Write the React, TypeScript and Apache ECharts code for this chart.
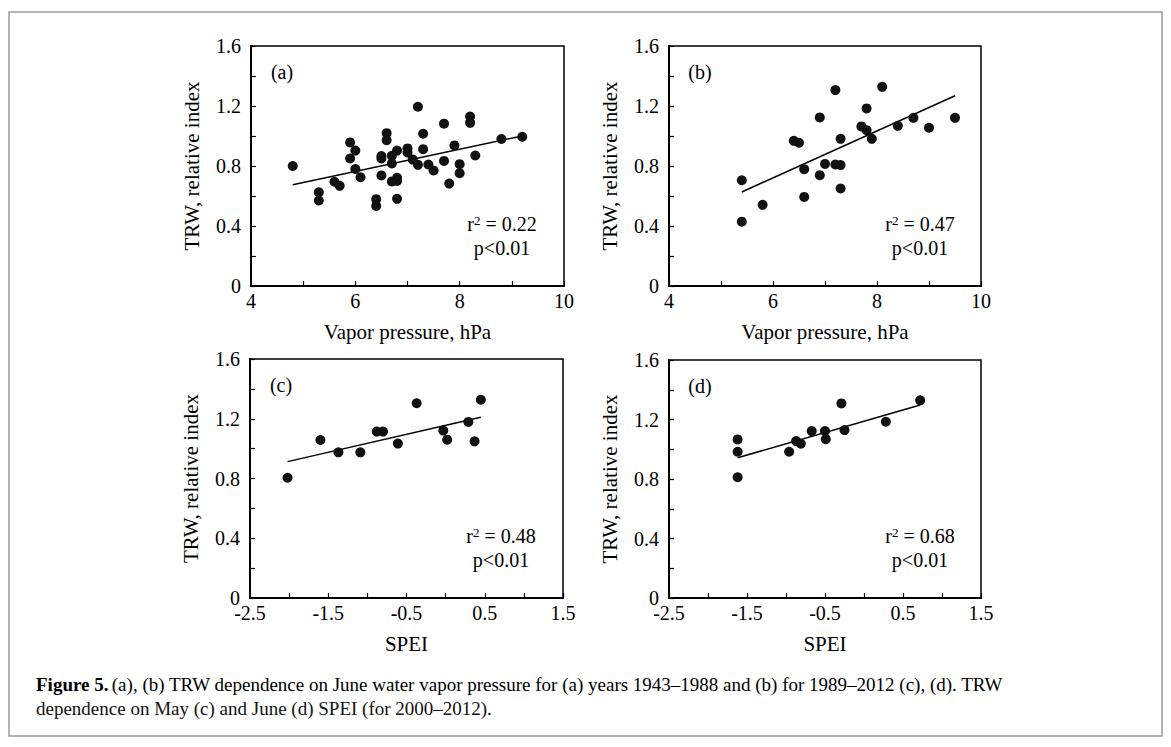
import React, { useEffect, useRef } from "react";
import * as echarts from "echarts";

const FONT = '"Liberation Serif", "Times New Roman", serif';

// Panel (a): June vapor pressure vs TRW, 1943–1988
const aVapor = [4.8, 5.3, 5.3, 5.6, 5.7, 5.9, 5.9, 6.0, 6.0, 6.1, 6.4, 6.4, 6.5, 6.5, 6.5, 6.6, 6.6, 6.7, 6.7, 6.7, 6.8, 6.8, 6.8, 6.8, 7.0, 7.0, 7.1, 7.2, 7.2, 7.3, 7.3, 7.4, 7.5, 7.7, 7.7, 7.8, 7.9, 8.0, 8.0, 8.2, 8.2, 8.3, 8.8, 9.2];
const aTRW = [0.8, 0.625, 0.57, 0.695, 0.668, 0.957, 0.85, 0.903, 0.78, 0.725, 0.579, 0.534, 0.866, 0.85, 0.737, 1.019, 0.972, 0.868, 0.817, 0.697, 0.903, 0.721, 0.581, 0.7, 0.917, 0.89, 0.843, 1.195, 0.808, 1.015, 0.912, 0.81, 0.77, 1.082, 0.834, 0.683, 0.937, 0.812, 0.752, 1.13, 1.088, 0.87, 0.98, 0.995];
const aFitX = [4.8, 9.2];
const aFitY = [0.675, 1.0];

// Panel (b): June vapor pressure vs TRW, 1989–2012
const bVapor = [5.4, 5.4, 5.8, 6.4, 6.5, 6.6, 6.6, 6.9, 6.9, 7.0, 7.2, 7.2, 7.3, 7.3, 7.3, 7.7, 7.8, 7.8, 7.9, 8.1, 8.4, 8.7, 9.0, 9.5];
const bTRW = [0.705, 0.429, 0.541, 0.968, 0.955, 0.779, 0.594, 1.124, 0.739, 0.814, 1.306, 0.81, 0.981, 0.806, 0.65, 1.064, 1.184, 1.039, 0.981, 1.328, 1.068, 1.121, 1.055, 1.121];
const bFitX = [5.4, 9.5];
const bFitY = [0.627, 1.268];

// Panel (c): May SPEI vs TRW, 2000–2012
const cSPEI = [-2.02, -1.6, -1.37, -1.09, -0.88, -0.8, -0.61, -0.37, -0.03, 0.02, 0.29, 0.37, 0.45];
const cTRW = [0.805, 1.058, 0.975, 0.975, 1.114, 1.114, 1.034, 1.304, 1.121, 1.06, 1.179, 1.049, 1.327];
const cFitX = [-2.02, 0.45];
const cFitY = [0.913, 1.21];

// Panel (d): June SPEI vs TRW, 2000–2012
const dSPEI = [-1.62, -1.62, -1.62, -0.96, -0.87, -0.81, -0.67, -0.5, -0.49, -0.29, -0.25, 0.28, 0.72];
const dTRW = [1.066, 0.983, 0.812, 0.983, 1.055, 1.037, 1.122, 1.122, 1.068, 1.308, 1.129, 1.185, 1.329];
const dFitX = [-1.62, 0.72];
const dFitY = [0.943, 1.297];

const panelLabels = ["(a)", "(b)", "(c)", "(d)"];
const r2Values = ["0.22", "0.47", "0.48", "0.68"];
const pText = "p<0.01";
const yTitle = "TRW, relative index";
const xTitles = ["Vapor pressure, hPa", "Vapor pressure, hPa", "SPEI", "SPEI"];
const captionLine1 = "(a), (b) TRW dependence on June water vapor pressure for (a) years 1943–1988 and (b) for 1989–2012 (c), (d). TRW";
const captionLine2 = "dependence on May (c) and June (d) SPEI (for 2000–2012).";

const grids = [
  { left: 251, top: 46, width: 313, height: 240 },
  { left: 669, top: 46, width: 312, height: 240 },
  { left: 250, top: 359, width: 313, height: 239 },
  { left: 669, top: 360, width: 312, height: 238 },
];

const zip = (xs: number[], ys: number[]) => xs.map((x, i) => [x, ys[i]]);

export default function App() {
  const ref = useRef<HTMLDivElement>(null);
  useEffect(() => {
    if (!ref.current) return;
    const chart = echarts.init(ref.current, undefined, { renderer: "svg" });

    const tickLabel = { color: "#000", fontFamily: FONT, fontSize: 20, lineHeight: 14 };
    const mkX = (i: number) => {
      const spei = i >= 2;
      return {
        type: "value",
        gridIndex: i,
        min: spei ? -2.5 : 4,
        max: spei ? 1.5 : 10,
        interval: spei ? 0.5 : 1,
        axisLine: { show: true, onZero: false, lineStyle: { color: "#000", width: 2 } },
        axisTick: { show: true, inside: true, length: 5, lineStyle: { color: "#000", width: 1.2 } },
        splitLine: { show: false },
        axisLabel: {
          ...tickLabel,
          margin: 8,
          showMinLabel: true,
          showMaxLabel: true,
          formatter: (v: number) => {
            if (spei) {
              const k = Math.round((v + 2.5) * 2);
              return k % 2 === 0 ? v.toFixed(1) : "";
            }
            const r = Math.round(v);
            return r % 2 === 0 ? String(r) : "";
          },
        },
      };
    };
    const mkY = (i: number) => ({
      type: "value",
      gridIndex: i,
      min: 0,
      max: 1.6,
      interval: 0.2,
      axisLine: { show: true, onZero: false, lineStyle: { color: "#000", width: 2 } },
      axisTick: { show: true, inside: true, length: 5, lineStyle: { color: "#000", width: 1.2 } },
      splitLine: { show: false },
      axisLabel: {
        ...tickLabel,
        margin: 10,
        formatter: (v: number) => {
          const k = Math.round(v * 10);
          if (k % 4 !== 0) return "";
          return k === 0 ? "0" : (k / 10).toFixed(1);
        },
      },
    });

    const pts = [zip(aVapor, aTRW), zip(bVapor, bTRW), zip(cSPEI, cTRW), zip(dSPEI, dTRW)];
    const fits = [zip(aFitX, aFitY), zip(bFitX, bFitY), zip(cFitX, cFitY), zip(dFitX, dFitY)];

    const series: any[] = [];
    for (let i = 0; i < 4; i++) {
      series.push({
        type: "scatter",
        xAxisIndex: i,
        yAxisIndex: i,
        data: pts[i],
        symbol: "circle",
        symbolSize: 10,
        itemStyle: { color: "#111", opacity: 1 },
        z: 3,
      });
      series.push({
        type: "line",
        xAxisIndex: i,
        yAxisIndex: i,
        data: fits[i],
        showSymbol: false,
        symbol: "none",
        lineStyle: { color: "#000", width: 1.5 },
        z: 2,
      });
    }

    const graphics: any[] = [
      {
        type: "rect",
        shape: { x: 9, y: 12, width: 1153, height: 724 },
        style: { fill: "none", stroke: "#9a9a9a", lineWidth: 1.5 },
        silent: true,
      },
    ];
    grids.forEach((g, i) => {
      const right = g.left + g.width;
      const bottom = g.top + g.height;
      graphics.push({
        type: "text",
        x: g.left + 31,
        y: g.top + 26,
        style: { text: panelLabels[i], font: `20px ${FONT}`, fill: "#000", textAlign: "center", textVerticalAlign: "middle" },
      });
      graphics.push({
        type: "text",
        x: g.left + 251,
        y: bottom - 62,
        style: {
          text: `{n|r}{s|2}{n| = ${r2Values[i]}}`,
          textAlign: "center",
          textVerticalAlign: "middle",
          rich: {
            n: { fontFamily: FONT, fontSize: 20, color: "#000" },
            s: { fontFamily: FONT, fontSize: 13, color: "#000", verticalAlign: "top" },
          },
        },
      });
      graphics.push({
        type: "text",
        x: g.left + 251,
        y: bottom - 38,
        style: { text: pText, font: `20px ${FONT}`, fill: "#000", textAlign: "center", textVerticalAlign: "middle" },
      });
      graphics.push({
        type: "text",
        x: g.left - 59,
        y: g.top + g.height / 2,
        rotation: Math.PI / 2,
        style: { text: yTitle, font: `21px ${FONT}`, fill: "#000", textAlign: "center", textVerticalAlign: "middle" },
      });
      graphics.push({
        type: "text",
        x: (g.left + right) / 2,
        y: bottom + 46,
        style: { text: xTitles[i], font: `21px ${FONT}`, fill: "#000", textAlign: "center", textVerticalAlign: "middle" },
      });
    });
    graphics.push({
      type: "text",
      x: 36,
      y: 684,
      style: {
        text: `{b|Figure 5.} {n|${captionLine1}}`,
        textVerticalAlign: "middle",
        rich: {
          b: { fontFamily: FONT, fontSize: 19, fontWeight: "bold", color: "#111" },
          n: { fontFamily: FONT, fontSize: 19, color: "#111" },
        },
      },
    });
    graphics.push({
      type: "text",
      x: 36,
      y: 708,
      style: { text: captionLine2, font: `19px ${FONT}`, fill: "#111", textVerticalAlign: "middle" },
    });

    chart.setOption({
      animation: false,
      backgroundColor: "#fff",
      grid: grids.map((g) => ({ ...g, show: true, borderColor: "#000", borderWidth: 1.5, backgroundColor: "transparent", containLabel: false })),
      xAxis: [0, 1, 2, 3].map(mkX),
      yAxis: [0, 1, 2, 3].map(mkY),
      series,
      graphic: graphics,
    });
    return () => chart.dispose();
  }, []);
  return <div ref={ref} style={{ position: "fixed", left: 0, top: 0, width: 1171, height: 747, background: "#fff" }} />;
}
